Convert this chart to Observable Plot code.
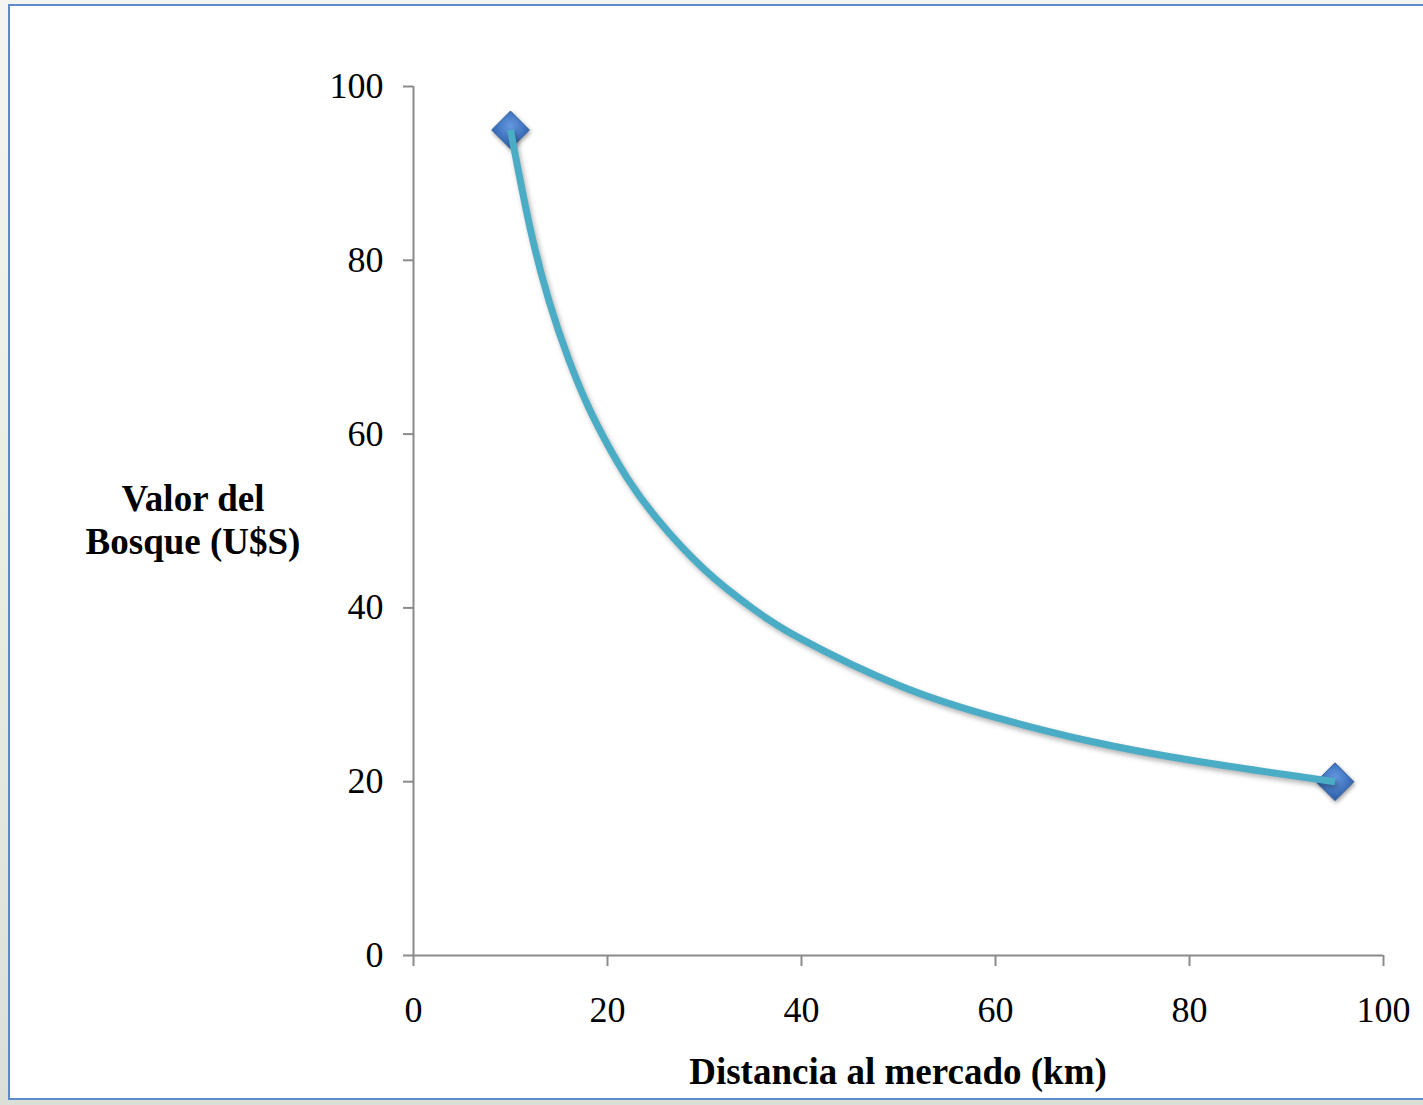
<!DOCTYPE html>
<html>
<head>
<meta charset="utf-8">
<script src="https://cdn.jsdelivr.net/npm/d3@7"></script>
<script src="https://cdn.jsdelivr.net/npm/@observablehq/plot@0.6"></script>
<style>
  html, body { margin: 0; padding: 0; }
  body { width: 1423px; height: 1105px; overflow: hidden; position: relative;
         background: linear-gradient(180deg, #f4f5f0 0%, #e9eee0 50%, #dcdfd8 100%); }
  #frame { position: absolute; left: 8px; top: 4px; width: 1430px; height: 1096px;
           background: #ffffff; border: 2.5px solid #5b8bc9; box-sizing: border-box; }
  #chart { position: absolute; left: 0; top: 0; }
  #ylabel { position: absolute; left: 40px; top: 477px; width: 306px; text-align: center;
            font-family: "Liberation Serif", "Times New Roman", serif; font-weight: bold;
            font-size: 37px; line-height: 43px; color: #000; }
  #xlabel { position: absolute; left: 548px; top: 1050px; width: 700px; text-align: center;
            font-family: "Liberation Serif", "Times New Roman", serif; font-weight: bold;
            font-size: 37px; color: #000; }
</style>
</head>
<body>
<div id="frame"></div>
<div id="chart"></div>
<div id="ylabel">Valor del<br>Bosque (U$S)</div>
<div id="xlabel">Distancia al mercado (km)</div>
<script>
// Curve (distance km, forest value U$S)
const distance = [10, 12, 14, 16, 18, 20, 22, 25, 30, 35, 40, 50, 60, 70, 80, 90, 95];
const value    = [95, 83.8, 75.2, 68.6, 63.2, 58.8, 55, 50.4, 44.4, 39.9, 36.4, 31.1, 27.4, 24.6, 22.5, 20.8, 20];
// Marked end points
const markerDistance = [10, 95];
const markerValue = [95, 20];
// Tick labels
const xTicks = [0, 20, 40, 60, 80, 100];
const yTicks = [0, 20, 40, 60, 80, 100];

const curve = distance.map((d, i) => ({x: d, y: value[i]}));
const markers = markerDistance.map((d, i) => ({x: d, y: markerValue[i]}));

const axisColor = "#8a8a8a";
const plot = Plot.plot({
  width: 1423,
  height: 1105,
  marginLeft: 413,
  marginRight: 40,
  marginTop: 86,
  marginBottom: 150,
  style: {background: "transparent", fontFamily: "'Liberation Serif', 'Times New Roman', serif", fontSize: "36px", color: "#000", overflow: "visible"},
  x: {domain: [0, 100], ticks: xTicks, label: null},
  y: {domain: [0, 100], ticks: yTicks, label: null},
  marks: [
    Plot.axisX({ticks: xTicks, tickSize: 11, tickPadding: 30, stroke: axisColor, strokeWidth: 2, fill: "#000", label: null}),
    Plot.axisY({ticks: yTicks, tickSize: 10, tickPadding: 20, stroke: axisColor, strokeWidth: 2, fill: "#000", label: null}),
    Plot.ruleX([0], {stroke: axisColor, strokeWidth: 2}),
    Plot.ruleY([0], {x1: 0, x2: 100, stroke: axisColor, strokeWidth: 2}),
    Plot.dot(markers, {x: "x", y: "y", symbol: "diamond2", r: 17, fill: "url(#diamondGrad)", stroke: "#2d5fa3", strokeWidth: 1}),
    Plot.line(curve, {x: "x", y: "y", curve: "natural", stroke: "#4bacc6", strokeWidth: 7, strokeLinecap: "butt"})
  ]
});
document.getElementById("chart").appendChild(plot);

const svg = d3.select(plot);
const defs = svg.insert("defs", ":first-child");
const g = defs.append("radialGradient").attr("id", "diamondGrad").attr("cx", "50%").attr("cy", "40%").attr("r", "60%");
g.append("stop").attr("offset", "0%").attr("stop-color", "#6499e2");
g.append("stop").attr("offset", "100%").attr("stop-color", "#2a5ca6");
svg.selectAll('g[aria-label="line"] path').style("filter", "drop-shadow(2px 3px 2.5px rgba(0,0,0,0.3))");
svg.selectAll('g[aria-label="dot"] path').style("filter", "drop-shadow(1px 2px 2px rgba(0,0,0,0.4))");
</script>
</body>
</html>
